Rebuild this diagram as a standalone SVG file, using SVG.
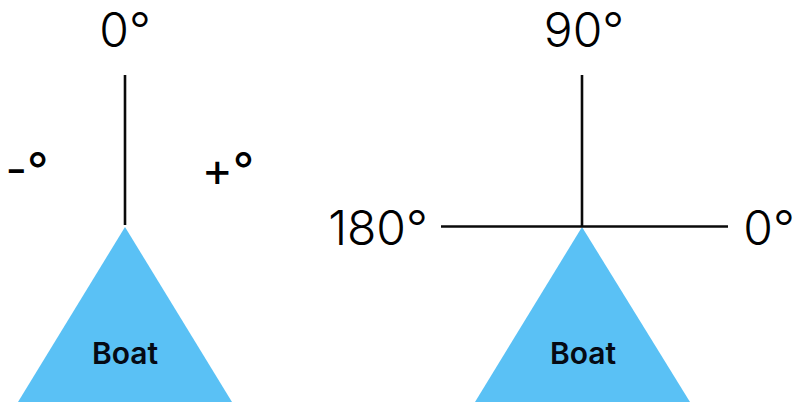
<svg xmlns="http://www.w3.org/2000/svg" width="794" height="404" viewBox="0 0 794 404">
<style>
.a{font-family:Inter,"Liberation Sans",sans-serif;font-size:48px;font-weight:350;fill:#000;text-anchor:middle}
.c{font-family:Inter,"Liberation Sans",sans-serif;font-size:47px;font-weight:400;fill:#000;text-anchor:middle}
.b{font-family:Inter,"Liberation Sans",sans-serif;font-size:30px;font-weight:600;fill:#050a14;text-anchor:middle}
.t{fill:#5ac1f5}
.l{stroke:#0a0a0a;stroke-width:2.6;fill:none}
</style>
<rect width="794" height="404" fill="#fff"/>
<g id="boat-left"><polygon class="t" points="125,227 232,402 18,402"/><text class="b" x="125" y="364">Boat</text></g>
<g id="boat-right"><polygon class="t" points="582,227 690,402 475,402"/><text class="b" x="583" y="364">Boat</text></g>
<g id="connectors">
<line class="l" x1="125" y1="75" x2="125" y2="225"/>
<line class="l" x1="582" y1="75" x2="582" y2="227"/>
<line class="l" x1="441" y1="226.500" x2="728" y2="226.500"/>
</g>
<g id="label-left-0"><text class="a" x="125" y="47">0°</text></g>
<g id="label-minus"><text class="c" x="27" y="186">-°</text></g>
<g id="label-plus"><text class="c" x="228" y="186">+°</text></g>
<g id="label-90"><text class="a" x="584" y="47">90°</text></g>
<g id="label-180"><text class="a" x="378" y="245">180°</text></g>
<g id="label-right-0"><text class="a" x="769" y="245">0°</text></g>
</svg>
